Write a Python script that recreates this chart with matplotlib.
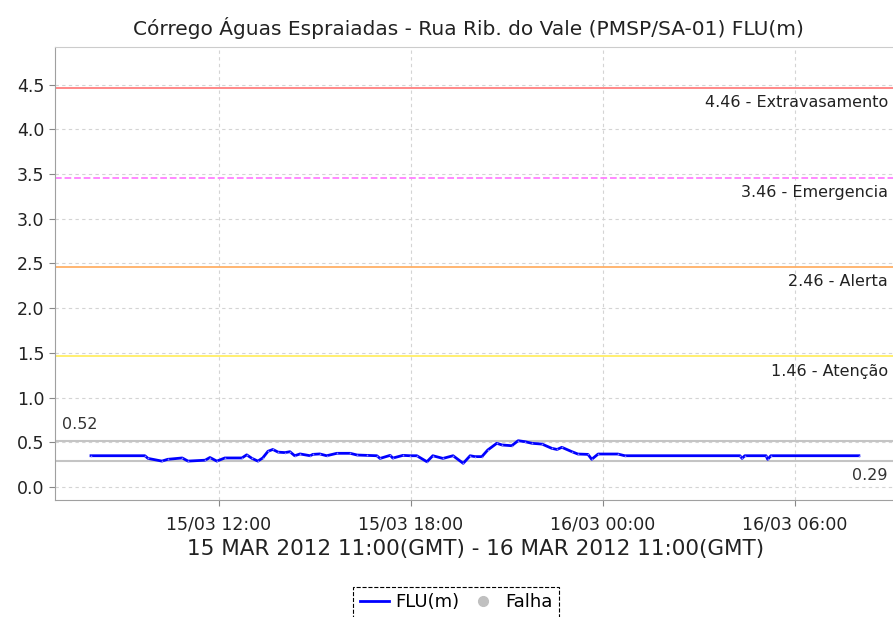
import pandas as pd
import numpy as np
import matplotlib
matplotlib.use("Agg")
import matplotlib.pyplot as plt
import matplotlib.dates as mdates
from matplotlib.lines import Line2D

title = "Córrego Águas Espraiadas - Rua Rib. do Vale (PMSP/SA-01) FLU(m)"
xlabel = "15 MAR 2012 11:00(GMT) - 16 MAR 2012 11:00(GMT)"

# leituras (horario local)
times = ["2012-03-15 08:00", "2012-03-15 09:41", "2012-03-15 09:47", "2012-03-15 10:13",
         "2012-03-15 10:24", "2012-03-15 10:51", "2012-03-15 11:02", "2012-03-15 11:34",
         "2012-03-15 11:43", "2012-03-15 11:56", "2012-03-15 12:11", "2012-03-15 12:43",
         "2012-03-15 12:52", "2012-03-15 13:02", "2012-03-15 13:13", "2012-03-15 13:22",
         "2012-03-15 13:32", "2012-03-15 13:41", "2012-03-15 13:51", "2012-03-15 14:04",
         "2012-03-15 14:13", "2012-03-15 14:22", "2012-03-15 14:32", "2012-03-15 14:51",
         "2012-03-15 14:56", "2012-03-15 15:09", "2012-03-15 15:22", "2012-03-15 15:41",
         "2012-03-15 16:06", "2012-03-15 16:19", "2012-03-15 16:37", "2012-03-15 16:56",
         "2012-03-15 17:02", "2012-03-15 17:21", "2012-03-15 17:26", "2012-03-15 17:45",
         "2012-03-15 17:58", "2012-03-15 18:11", "2012-03-15 18:30", "2012-03-15 18:41",
         "2012-03-15 19:00", "2012-03-15 19:19", "2012-03-15 19:38", "2012-03-15 19:51",
         "2012-03-15 20:00", "2012-03-15 20:13", "2012-03-15 20:24", "2012-03-15 20:41",
         "2012-03-15 20:51", "2012-03-15 21:09", "2012-03-15 21:21", "2012-03-15 21:34",
         "2012-03-15 21:47", "2012-03-15 22:06", "2012-03-15 22:24", "2012-03-15 22:34",
         "2012-03-15 22:43", "2012-03-15 23:02", "2012-03-15 23:13", "2012-03-15 23:32",
         "2012-03-15 23:39", "2012-03-15 23:51", "2012-03-16 00:28", "2012-03-16 00:41",
         "2012-03-16 04:17", "2012-03-16 04:21", "2012-03-16 04:26", "2012-03-16 05:06",
         "2012-03-16 05:09", "2012-03-16 05:15", "2012-03-16 08:00"]
flu = [0.35, 0.35, 0.32, 0.29, 0.31, 0.325, 0.29, 0.30,
       0.33, 0.29, 0.325, 0.325, 0.36, 0.32, 0.29, 0.325,
       0.40, 0.42, 0.39, 0.385, 0.395, 0.35, 0.37, 0.35,
       0.365, 0.37, 0.35, 0.377, 0.377, 0.358, 0.354, 0.35,
       0.32, 0.354, 0.324, 0.354, 0.35, 0.35, 0.283, 0.35,
       0.32, 0.35, 0.265, 0.35, 0.34, 0.34, 0.414, 0.489,
       0.47, 0.462, 0.518, 0.507, 0.489, 0.48, 0.433, 0.42,
       0.444, 0.395, 0.369, 0.365, 0.31, 0.369, 0.369, 0.35,
       0.35, 0.32, 0.35, 0.35, 0.31, 0.35, 0.35]

limites = [4.46, 3.46, 2.46, 1.46]
nomes = ["Extravasamento", "Emergencia", "Alerta", "Atenção"]
cores = ["#ff7f7f", "#ff80ff", "#ffb066", "#ffee66"]
estilos = ["-", "--", "-", "-"]
vmax = 0.52
vmin = 0.29

t = pd.to_datetime(times)

fig = plt.figure(figsize=(8.93, 6.17), dpi=100)
ax = fig.add_axes([55/893, 1-500/617, 1-55/893, (500-47)/617])

ax.set_xlim(pd.Timestamp("2012-03-15 06:52:30"), pd.Timestamp("2012-03-16 09:04"))
ax.set_ylim(-0.145, 4.92)
ax.set_yticks(np.arange(0, 4.51, 0.5))
ax.yaxis.set_major_formatter(plt.FormatStrFormatter("%.1f"))
ax.set_xticks(pd.to_datetime(["2012-03-15 12:00", "2012-03-15 18:00",
                              "2012-03-16 00:00", "2012-03-16 06:00"]))
ax.xaxis.set_major_formatter(mdates.DateFormatter("%d/%m %H:%M"))
ax.grid(True, color="#d4d4d4", linestyle=(0, (3, 3)), linewidth=0.8)
ax.set_axisbelow(True)

for sp in ["left", "bottom"]:
    ax.spines[sp].set_color("#a0a0a0")
ax.spines["top"].set_color("#cccccc")
ax.spines["right"].set_visible(False)
ax.tick_params(colors="#888888", labelcolor="#222222", labelsize=12.5, length=4)
ax.tick_params(axis="x", pad=7)

for v, n, c, s in zip(limites, nomes, cores, estilos):
    ax.axhline(v, color=c, linestyle=s, linewidth=1.3)
    ax.text(0.994, v - 0.08, f"{v:.2f} - {n}", transform=ax.get_yaxis_transform(),
            ha="right", va="top", fontsize=11.5, color="#222222")

ax.axhline(vmax, color="#c4c4c4", linewidth=1.5)
ax.axhline(vmin, color="#c4c4c4", linewidth=1.5)
ax.text(0.008, vmax + 0.1, f"{vmax:.2f}", transform=ax.get_yaxis_transform(),
        ha="left", va="bottom", fontsize=11.5, color="#333333")
ax.text(0.994, vmin - 0.08, f"{vmin:.2f}", transform=ax.get_yaxis_transform(),
        ha="right", va="top", fontsize=11.5, color="#333333")

ax.plot(t, flu, color="#0000ff", linewidth=2, marker="o", markersize=1.2,
        markerfacecolor="#8080ff", markeredgewidth=0)

fig.text(468/893, 1-28/617, title, ha="center", va="center", fontsize=14.5, color="#222222")
fig.text(476/893, 1-549/617, xlabel, ha="center", va="center", fontsize=15.5, color="#222222")

handles = [Line2D([], [], color="#0000ff", linewidth=2),
           Line2D([], [], color="#c0c0c0", marker="o", linestyle="none", markersize=7)]
leg = fig.legend(handles, ["FLU(m)", "Falha"], loc="upper center", ncol=2,
                 bbox_to_anchor=(456/893, 1-578/617), fontsize=13, handlelength=1.6,
                 handletextpad=0.4, columnspacing=0.5, borderpad=0.35,
                 fancybox=False, framealpha=1)
leg.get_frame().set_edgecolor("#000000")
leg.get_frame().set_linestyle("--")
leg.get_frame().set_linewidth(0.8)

fig.savefig("out.png", dpi=100)
